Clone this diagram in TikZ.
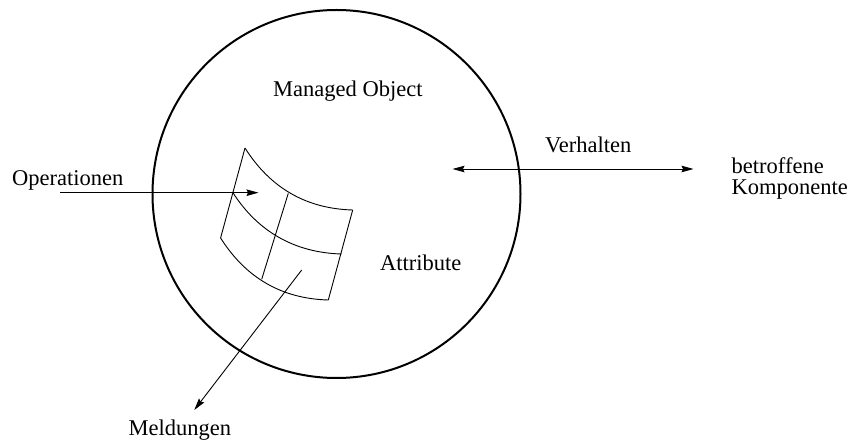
\documentclass[tikz,border=0pt]{standalone}
\usepackage{fontspec}
\setmainfont{Liberation Serif}
\usetikzlibrary{arrows.meta}
\begin{document}
\begin{tikzpicture}[x=1pt,y=-1pt,
  lbl/.style={inner sep=0pt,font=\fontsize{22.5}{25}\selectfont},
  thin line/.style={line width=0.9pt},
  arr/.style={thin line,-{Stealth[length=12pt,width=6.5pt,inset=1.5pt]}},
  grid line/.style={line width=0.9pt}]
\useasboundingbox (0,0) rectangle (852,443);
% circle
\node[draw,circle,line width=2pt,minimum size=368pt,inner sep=0pt] (mo) at (336.5,194) {};
% texts
\node[lbl,anchor=base west] (mot) at (273,96.7) {Managed Object};
\node[lbl,anchor=base west] (att) at (380,270.5) {Attribute};
\node[lbl,anchor=base west] (ops) at (12,185.5) {Operationen};
\node[lbl,anchor=base west] (ver) at (545,152.5) {Verhalten};
\node[lbl,anchor=base west] (bet) at (731.5,174) {betroffene};
\node[lbl,anchor=base west] (kom) at (731.5,194.5) {Komponente};
\node[lbl,anchor=base west] (mel) at (128.5,436) {Meldungen};
% grid coordinates
\coordinate (tl) at (245,148);
\coordinate (tr) at (352.7,210);
\coordinate (ml) at (232.5,192);
\coordinate (mr) at (341.5,254);
\coordinate (bl) at (220.6,238);
\coordinate (br) at (328.3,300);
\coordinate (vt) at (288.3,193.3);
\coordinate (vb) at (261.7,279.3);
% grid
\draw[grid line] (tl) .. controls (270.3,188) and (306.2,208.7) .. (tr);
\draw[grid line] (ml) .. controls (257.8,232) and (295.2,252.7) .. (mr);
\draw[grid line] (bl) .. controls (245.9,278) and (281.8,298.7) .. (br);
\draw[grid line] (tl) -- (bl);
\draw[grid line] (tr) -- (br);
\draw[grid line] (vt) -- (vb);
% arrows
\coordinate (opsS) at (60,192.7);
\coordinate (opsE) at (258.5,192.7);
\draw[arr] (opsS) -- (opsE);
\coordinate (verL) at (452.5,169);
\coordinate (verR) at (693.5,169);
\draw[thin line,{Stealth[length=12pt,width=6.5pt,inset=1.5pt]}-{Stealth[length=12pt,width=6.5pt,inset=1.5pt]}] (verL) -- (verR);
\coordinate (melS) at (301.7,270);
\coordinate (melE) at (194.3,410);
\draw[arr] (melS) -- (melE);
\end{tikzpicture}
\end{document}
